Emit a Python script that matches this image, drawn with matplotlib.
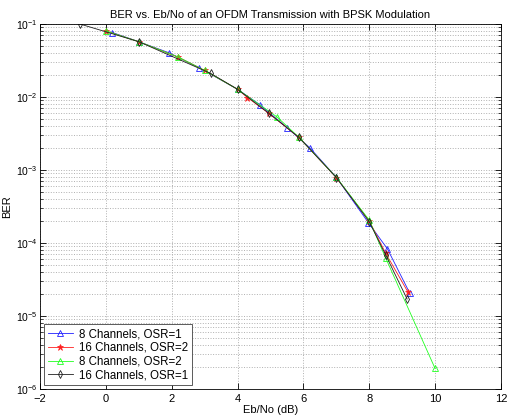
import matplotlib
matplotlib.use("Agg")
import matplotlib.pyplot as plt
from matplotlib.ticker import LogLocator, MultipleLocator, NullFormatter

plt.rcParams['font.family'] = ['Liberation Sans', 'DejaVu Sans']
plt.rcParams['font.size'] = 8

# Eb/No (dB) and BER for each run
ebno_8_osr1 = [0.2, 1.0, 1.93, 2.84, 4.0, 4.68, 5.5, 6.2, 7.0, 7.97, 8.55, 9.23]
ber_8_osr1 = [0.076, 0.057, 0.040, 0.025, 0.0127, 0.0078, 0.0038, 0.0020, 7.9e-4, 1.9e-4, 8.3e-5, 2.05e-5]

ebno_16_osr2 = [0.0, 1.0, 2.2, 3.0, 4.0, 4.3, 4.94, 5.86, 7.0, 8.0, 8.5, 9.18]
ber_16_osr2 = [0.080, 0.057, 0.035, 0.023, 0.0127, 0.0098, 0.0060, 0.0028, 7.85e-4, 2.0e-4, 7.2e-5, 2.1e-5]

ebno_8_osr2 = [0.0, 1.0, 2.2, 3.0, 4.0, 5.2, 5.86, 7.0, 8.0, 8.5, 10.0]
ber_8_osr2 = [0.080, 0.057, 0.035, 0.023, 0.0127, 0.0053, 0.0028, 7.9e-4, 2.05e-4, 6.2e-5, 1.9e-6]

ebno_16_osr1 = [-0.8, 1.0, 3.18, 4.0, 4.94, 5.86, 7.0, 8.0, 8.5, 9.15]
ber_16_osr1 = [0.100, 0.057, 0.021, 0.0127, 0.0060, 0.0028, 7.85e-4, 1.95e-4, 6.8e-5, 1.7e-5]

labels = ['8 Channels, OSR=1', '16 Channels, OSR=2',
          '8 Channels, OSR=2', '16 Channels, OSR=1']

fig = plt.figure(figsize=(5.07, 4.19), dpi=100)
ax = fig.add_axes([0.079, 0.072, 0.909, 0.871])

lw = 0.6
ax.semilogy(ebno_8_osr1, ber_8_osr1, color='#2020ff', marker='^', mfc='none',
            ms=4.5, lw=lw, mew=0.6, label=labels[0])
ax.semilogy(ebno_16_osr2, ber_16_osr2, color='#ff2020', marker='*',
            ms=4.5, lw=lw, mew=0.5, label=labels[1])
ax.semilogy(ebno_8_osr2, ber_8_osr2, color='#20ff20', marker='^', mfc='none',
            ms=4.5, lw=lw, mew=0.6, label=labels[2])
ax.semilogy(ebno_16_osr1, ber_16_osr1, color='#202020', marker='d', mfc='none',
            ms=3.8, lw=lw, mew=0.6, label=labels[3])

ax.set_xlim(-2, 12)
ax.set_ylim(1e-6, 1e-1)
ax.xaxis.set_major_locator(MultipleLocator(2))
ax.yaxis.set_major_locator(LogLocator(base=10, numticks=10))
ax.yaxis.set_minor_locator(LogLocator(base=10, subs=range(2, 10), numticks=10))
ax.yaxis.set_minor_formatter(NullFormatter())

ax.grid(True, which='major', axis='both', color='#b0b0b0', ls=':', lw=0.7)
ax.grid(True, which='minor', axis='y', color='#b0b0b0', ls=':', lw=0.7)
ax.tick_params(which='both', direction='in', top=True, right=True)
ax.tick_params(which='major', length=4, width=0.6, labelsize=8)
ax.tick_params(axis='y', which='major', labelsize=7.5, pad=2)
ax.tick_params(which='minor', length=2, width=0.5)
for s in ax.spines.values():
    s.set_linewidth(0.6)

ax.set_title('BER vs. Eb/No of an OFDM Transmission with BPSK Modulation', fontsize=8, pad=4)
ax.set_xlabel('Eb/No (dB)', labelpad=1)
ax.set_ylabel('BER')
ax.yaxis.set_label_coords(-0.06, 0.5)

leg = ax.legend(loc='lower left', fancybox=False, edgecolor='#404040', framealpha=1,
                borderaxespad=0.3, handlelength=2.2, labelspacing=0.15,
                borderpad=0.35, handletextpad=0.5, fontsize=8.3)
leg.get_frame().set_linewidth(0.6)

fig.savefig('out.png', dpi=100)
